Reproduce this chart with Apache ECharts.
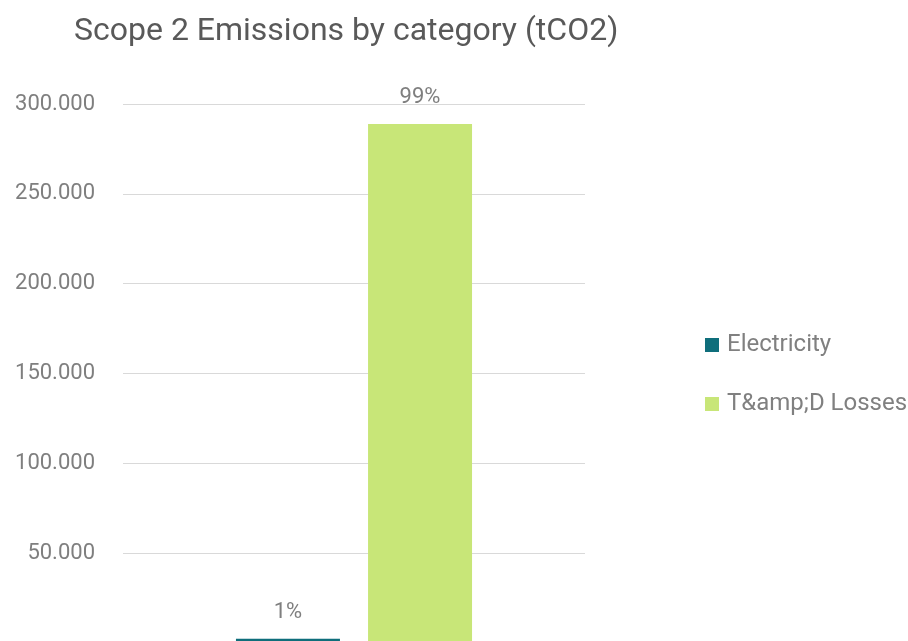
<!DOCTYPE html>
<html><head><meta charset="utf-8">
<script src="https://cdn.jsdelivr.net/npm/echarts@6/dist/echarts.min.js"></script>
<style>html,body{margin:0;padding:0;background:#fff;overflow:hidden}#c{width:908px;height:646px}</style>
</head><body><div id="c"></div>
<script>
const categories = ['Scope 2'];
const seriesNames = ['Electricity', 'T&amp;D Losses'];
const electricity = [2.4];
const tdLosses = [288.9];
const shareLabels = ['1%', '99%'];
const yTicks = { min: 0, max: 300, interval: 50 };

const chart = echarts.init(document.getElementById('c'));
const font = 'Roboto, "DejaVu Sans", sans-serif';
const mk = (name, data, color, label) => ({
  name, type: 'bar', data, barWidth: 104, barGap: '27%',
  itemStyle: { color },
  label: { show: true, position: 'top', distance: 15, formatter: label,
    color: '#7f7f7f', fontSize: 22, fontFamily: font }
});
chart.setOption({
  animation: false,
  title: { text: 'Scope 2 Emissions by category (tCO2)', left: 69, top: 11,
    textStyle: { color: '#595959', fontSize: 32, fontWeight: 'normal', fontFamily: font } },
  legend: { orient: 'vertical', left: 700, top: 328, itemGap: 35, itemWidth: 14, itemHeight: 14,
    icon: 'rect', textStyle: { color: '#808080', fontSize: 24, fontFamily: font, padding: [0,0,0,3] } },
  grid: { left: 123, width: 462, top: 104, bottom: 3, containLabel: false },
  xAxis: { type: 'category', data: categories, axisLine: { show: false }, axisTick: { show: false }, axisLabel: { show: false } },
  yAxis: { type: 'value', min: yTicks.min, max: yTicks.max, interval: yTicks.interval,
    axisLine: { show: false }, axisTick: { show: false },
    splitLine: { lineStyle: { color: '#d9d9d9', width: 1 } },
    axisLabel: { margin: 28, color: '#7f7f7f', fontSize: 22, fontFamily: font,
      formatter: v => v === 0 ? '' : v.toFixed(3) } },
  series: [
    mk(seriesNames[0], electricity, '#0f6e7b', () => shareLabels[0]),
    mk(seriesNames[1], tdLosses, '#c8e678', () => shareLabels[1])
  ]
});
</script></body></html>
